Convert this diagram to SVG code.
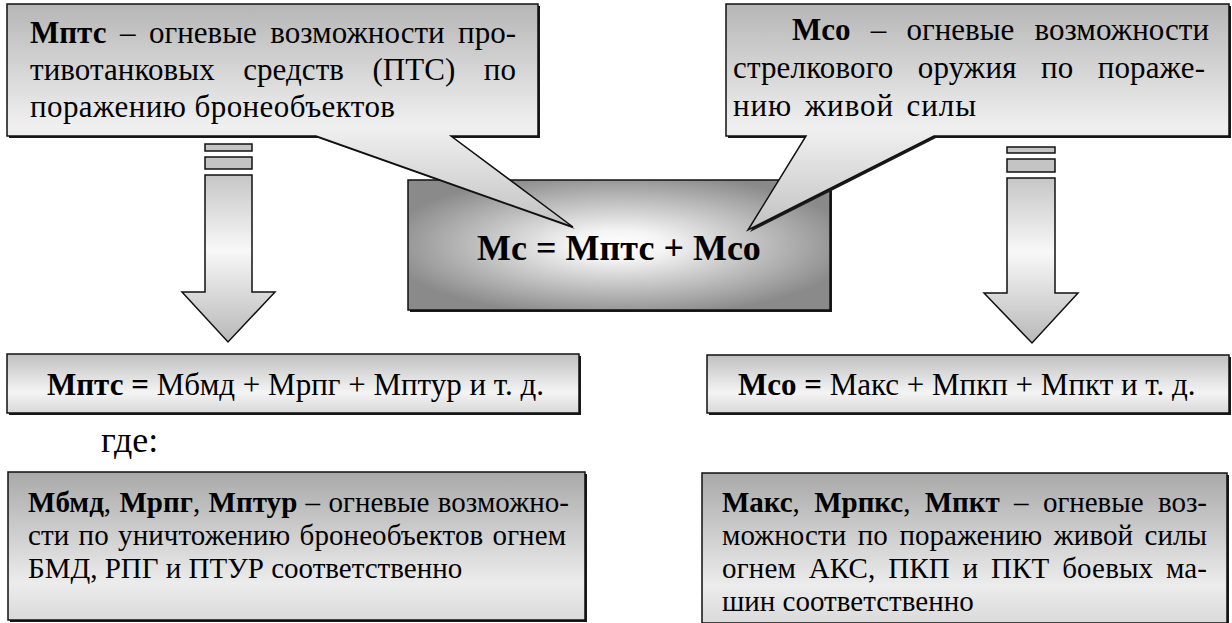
<svg xmlns="http://www.w3.org/2000/svg" width="1232" height="623" viewBox="0 0 1232 623">
<defs>
<linearGradient id="gCallout" x1="0" y1="0" x2="0" y2="1">
<stop offset="0" stop-color="#b6b6b6"/>
<stop offset="0.55" stop-color="#f0f0f0"/>
<stop offset="1" stop-color="#c2c2c2"/>
</linearGradient>
<linearGradient id="gArrow" x1="0" y1="0" x2="0" y2="1">
<stop offset="0" stop-color="#c6c6c6"/>
<stop offset="0.45" stop-color="#f8f8f8"/>
<stop offset="1" stop-color="#b8b8b8"/>
</linearGradient>
<radialGradient id="gCenter" cx="0.5" cy="0.5" r="0.56">
<stop offset="0" stop-color="#ffffff"/>
<stop offset="0.2" stop-color="#f4f4f4"/>
<stop offset="1" stop-color="#8a8a8a"/>
</radialGradient>
<linearGradient id="gFormula" x1="0" y1="0" x2="0" y2="1">
<stop offset="0" stop-color="#c0c0c0"/>
<stop offset="0.65" stop-color="#f4f4f4"/>
<stop offset="1" stop-color="#d8d8d8"/>
</linearGradient>
<linearGradient id="gNote" x1="0" y1="0" x2="0" y2="1">
<stop offset="0" stop-color="#a9a9a9"/>
<stop offset="0.75" stop-color="#ececec"/>
<stop offset="1" stop-color="#dadada"/>
</linearGradient>
<style>
.sh{fill:#1a1a1a}
.bd{stroke:#111;stroke-width:1.5;stroke-linejoin:miter}
.t{font-family:"Liberation Serif","Times New Roman",serif;fill:#000}
.b{font-weight:bold}
.c31{font-size:31px}
.c29{font-size:29px}
.stripe{fill:#c4c4c4;stroke:#111;stroke-width:1.5}
</style>
</defs>

<g id="center-box">
<rect class="sh" x="410" y="182" width="422" height="130"/>
<rect class="bd" x="408" y="180" width="422" height="130" fill="url(#gCenter)"/>
<text class="t b" x="619" y="260" font-size="36" text-anchor="middle">Мс = Мптс + Мсо</text>
</g>

<g id="callout-mptc">
<path class="sh" d="M9,6 H540 V138 H453 L575,229 L318,138 H9 Z"/>
<path class="bd" d="M7,4 H538 V136 H451 L573,227 L316,136 H7 Z" fill="url(#gCallout)"/>
<text class="t c31" x="30" y="43" word-spacing="5.8" textLength="486" lengthAdjust="spacing"><tspan class="b">Мптс</tspan> – огневые возможности про-</text>
<text class="t c31" x="30" y="80" word-spacing="20.6" textLength="486" lengthAdjust="spacing">тивотанковых средств (ПТС) по</text>
<text class="t c31" x="30" y="117" textLength="365" lengthAdjust="spacing">поражению бронеобъектов</text>
</g>

<g id="callout-mco">
<path class="sh" d="M728,6 H1231 V138 H936 L750,232 L808,138 H728 Z"/>
<path class="bd" d="M726,4 H1229 V136 H934 L748,230 L806,136 H726 Z" fill="url(#gCallout)"/>
<text class="t c31" x="792" y="40" word-spacing="12.4" textLength="417" lengthAdjust="spacing"><tspan class="b">Мсо</tspan> – огневые возможности</text>
<text class="t c31" x="733" y="78" word-spacing="16.5" textLength="472" lengthAdjust="spacing">стрелкового оружия по пораже-</text>
<text class="t c31" x="733" y="116" word-spacing="4" textLength="243" lengthAdjust="spacing">нию живой силы</text>
</g>

<g id="connectors">
<g id="arrow-left">
<rect class="stripe" x="205" y="144" width="47" height="7"/>
<rect class="stripe" x="205" y="157" width="47" height="12"/>
<path class="bd" d="M205,175 H252 V292 H275 L228,342 L182,292 H205 Z" fill="url(#gArrow)"/>
</g>
<g id="arrow-right">
<rect class="stripe" x="1007" y="147" width="48" height="6"/>
<rect class="stripe" x="1007" y="159" width="48" height="13"/>
<path class="bd" d="M1007,178 H1055 V293 H1078 L1032,343 L984,293 H1007 Z" fill="url(#gArrow)"/>
</g>
</g>

<g id="formula-mptc">
<rect class="sh" x="9" y="356" width="572" height="59"/>
<rect class="bd" x="7" y="354" width="572" height="59" fill="url(#gFormula)"/>
<text class="t" font-size="31" x="47" y="395"><tspan class="b">Мптс =</tspan> Мбмд + Мрпг + Мптур и т. д.</text>
</g>

<g id="formula-mco">
<rect class="sh" x="709" y="357" width="522" height="58"/>
<rect class="bd" x="707" y="355" width="522" height="58" fill="url(#gFormula)"/>
<text class="t" font-size="31" x="738" y="395"><tspan class="b">Мсо =</tspan> Макс + Мпкп + Мпкт и т. д.</text>
</g>

<g id="label-gde">
<text class="t" font-size="36" x="101" y="452">где:</text>
</g>

<g id="note-mptc">
<rect class="sh" x="10" y="474" width="577" height="148"/>
<rect class="bd" x="8" y="472" width="577" height="148" fill="url(#gNote)"/>
<text class="t c29" x="28" y="512" word-spacing="1" textLength="541" lengthAdjust="spacing"><tspan class="b">Мбмд</tspan>, <tspan class="b">Мрпг</tspan>, <tspan class="b">Мптур</tspan> – огневые возможно-</text>
<text class="t c29" x="28" y="545" word-spacing="2" textLength="538" lengthAdjust="spacing">сти по уничтожению бронеобъектов огнем</text>
<text class="t c29" x="28" y="578">БМД, РПГ и ПТУР соответственно</text>
</g>

<g id="note-mco">
<rect class="sh" x="704" y="475" width="525" height="150"/>
<rect class="bd" x="702" y="473" width="525" height="150" fill="url(#gNote)"/>
<text class="t c29" x="722" y="512" word-spacing="7.2" textLength="485" lengthAdjust="spacing"><tspan class="b">Макс</tspan>, <tspan class="b">Мрпкс</tspan>, <tspan class="b">Мпкт</tspan> – огневые воз-</text>
<text class="t c29" x="722" y="545" word-spacing="4.3" textLength="485" lengthAdjust="spacing">можности по поражению живой силы</text>
<text class="t c29" x="722" y="578" word-spacing="5.3" textLength="485" lengthAdjust="spacing">огнем АКС, ПКП и ПКТ боевых ма-</text>
<text class="t c29" x="722" y="611">шин соответственно</text>
</g>
</svg>
